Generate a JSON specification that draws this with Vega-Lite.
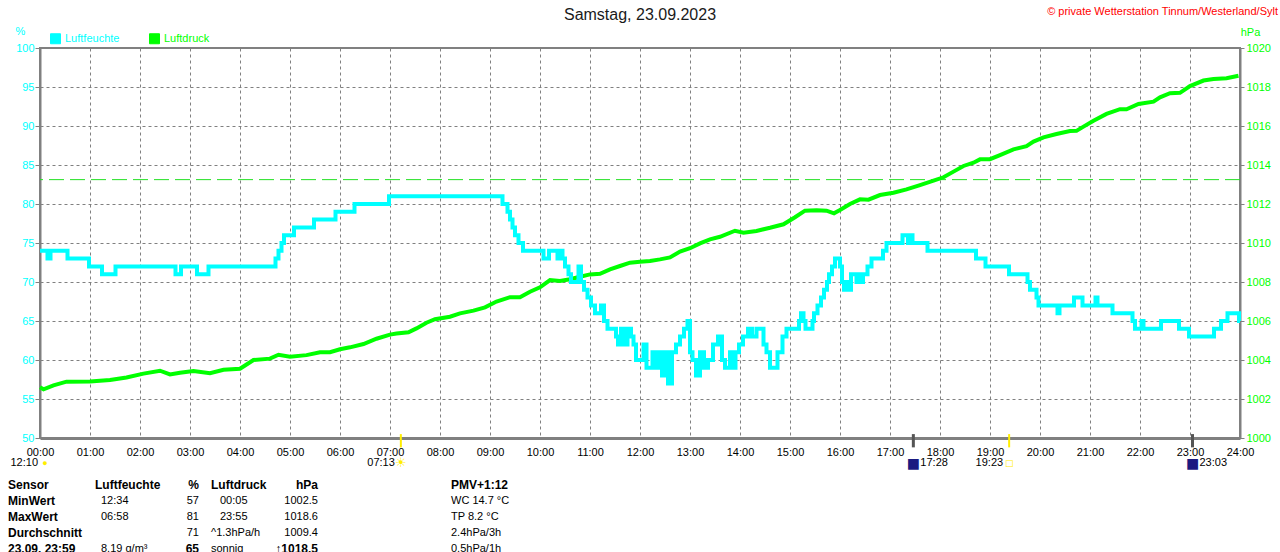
{
  "$schema": "https://vega.github.io/schema/vega-lite/v6.json",
  "width": 1200,
  "height": 390,
  "autosize": {"type": "none"},
  "padding": {"left": 40, "top": 48, "right": 40, "bottom": 114},
  "background": "white",
  "title": {"text": "Samstag, 23.09.2023", "fontSize": 16, "fontWeight": "normal", "color": "#1a1a1a", "anchor": "middle", "frame": "group", "offset": -17},
  "config": {"font": "Liberation Sans", "view": {"stroke": "#808080", "strokeWidth": 2}},
  "datasets": {
    "feuchte": [
      {"stunde": 0, "feuchte": 74}, {"stunde": 0.15, "feuchte": 73}, {"stunde": 0.21, "feuchte": 74},
      {"stunde": 0.55, "feuchte": 73}, {"stunde": 0.98, "feuchte": 72}, {"stunde": 1.24, "feuchte": 71},
      {"stunde": 1.51, "feuchte": 72}, {"stunde": 2.71, "feuchte": 71}, {"stunde": 2.82, "feuchte": 72},
      {"stunde": 3.14, "feuchte": 71}, {"stunde": 3.37, "feuchte": 72}, {"stunde": 4.71, "feuchte": 73},
      {"stunde": 4.77, "feuchte": 74}, {"stunde": 4.83, "feuchte": 75}, {"stunde": 4.88, "feuchte": 76},
      {"stunde": 5.08, "feuchte": 77}, {"stunde": 5.48, "feuchte": 78}, {"stunde": 5.91, "feuchte": 79},
      {"stunde": 6.29, "feuchte": 80}, {"stunde": 6.98, "feuchte": 81}, {"stunde": 9.25, "feuchte": 80},
      {"stunde": 9.35, "feuchte": 79}, {"stunde": 9.4, "feuchte": 78}, {"stunde": 9.45, "feuchte": 77},
      {"stunde": 9.5, "feuchte": 76}, {"stunde": 9.57, "feuchte": 75}, {"stunde": 9.66, "feuchte": 74},
      {"stunde": 10.07, "feuchte": 73}, {"stunde": 10.18, "feuchte": 74}, {"stunde": 10.35, "feuchte": 73},
      {"stunde": 10.4, "feuchte": 74}, {"stunde": 10.45, "feuchte": 73}, {"stunde": 10.5, "feuchte": 72},
      {"stunde": 10.57, "feuchte": 71}, {"stunde": 10.62, "feuchte": 70}, {"stunde": 10.77, "feuchte": 72},
      {"stunde": 10.82, "feuchte": 70}, {"stunde": 10.88, "feuchte": 69}, {"stunde": 10.95, "feuchte": 68},
      {"stunde": 11.02, "feuchte": 67}, {"stunde": 11.1, "feuchte": 66}, {"stunde": 11.22, "feuchte": 67},
      {"stunde": 11.28, "feuchte": 65}, {"stunde": 11.35, "feuchte": 64}, {"stunde": 11.52, "feuchte": 63},
      {"stunde": 11.56, "feuchte": 62}, {"stunde": 11.62, "feuchte": 64}, {"stunde": 11.68, "feuchte": 62},
      {"stunde": 11.75, "feuchte": 64}, {"stunde": 11.82, "feuchte": 63}, {"stunde": 11.87, "feuchte": 62},
      {"stunde": 11.92, "feuchte": 60}, {"stunde": 12.07, "feuchte": 62}, {"stunde": 12.13, "feuchte": 59},
      {"stunde": 12.25, "feuchte": 61}, {"stunde": 12.3, "feuchte": 59}, {"stunde": 12.38, "feuchte": 61},
      {"stunde": 12.44, "feuchte": 58}, {"stunde": 12.5, "feuchte": 61}, {"stunde": 12.56, "feuchte": 57},
      {"stunde": 12.64, "feuchte": 61}, {"stunde": 12.72, "feuchte": 62}, {"stunde": 12.8, "feuchte": 63},
      {"stunde": 12.88, "feuchte": 64}, {"stunde": 12.95, "feuchte": 65}, {"stunde": 13.0, "feuchte": 61},
      {"stunde": 13.05, "feuchte": 60}, {"stunde": 13.12, "feuchte": 58}, {"stunde": 13.2, "feuchte": 61},
      {"stunde": 13.28, "feuchte": 59}, {"stunde": 13.36, "feuchte": 60}, {"stunde": 13.46, "feuchte": 62},
      {"stunde": 13.56, "feuchte": 63}, {"stunde": 13.64, "feuchte": 60}, {"stunde": 13.7, "feuchte": 59},
      {"stunde": 13.8, "feuchte": 61}, {"stunde": 13.85, "feuchte": 59}, {"stunde": 13.91, "feuchte": 61},
      {"stunde": 13.98, "feuchte": 62}, {"stunde": 14.06, "feuchte": 63}, {"stunde": 14.16, "feuchte": 64},
      {"stunde": 14.24, "feuchte": 63}, {"stunde": 14.33, "feuchte": 64}, {"stunde": 14.47, "feuchte": 62},
      {"stunde": 14.53, "feuchte": 61}, {"stunde": 14.6, "feuchte": 59}, {"stunde": 14.75, "feuchte": 61},
      {"stunde": 14.85, "feuchte": 63}, {"stunde": 14.93, "feuchte": 64}, {"stunde": 15.18, "feuchte": 65},
      {"stunde": 15.22, "feuchte": 66}, {"stunde": 15.27, "feuchte": 65}, {"stunde": 15.31, "feuchte": 64},
      {"stunde": 15.45, "feuchte": 65}, {"stunde": 15.48, "feuchte": 66}, {"stunde": 15.55, "feuchte": 67},
      {"stunde": 15.62, "feuchte": 68}, {"stunde": 15.68, "feuchte": 69}, {"stunde": 15.74, "feuchte": 70},
      {"stunde": 15.78, "feuchte": 71}, {"stunde": 15.84, "feuchte": 72}, {"stunde": 15.9, "feuchte": 73},
      {"stunde": 16.0, "feuchte": 72}, {"stunde": 16.04, "feuchte": 70}, {"stunde": 16.08, "feuchte": 69},
      {"stunde": 16.14, "feuchte": 70}, {"stunde": 16.18, "feuchte": 69}, {"stunde": 16.22, "feuchte": 71},
      {"stunde": 16.33, "feuchte": 70}, {"stunde": 16.36, "feuchte": 71}, {"stunde": 16.43, "feuchte": 70},
      {"stunde": 16.46, "feuchte": 71}, {"stunde": 16.55, "feuchte": 72}, {"stunde": 16.63, "feuchte": 73},
      {"stunde": 16.86, "feuchte": 74}, {"stunde": 16.93, "feuchte": 75}, {"stunde": 17.25, "feuchte": 76},
      {"stunde": 17.36, "feuchte": 75}, {"stunde": 17.39, "feuchte": 76}, {"stunde": 17.45, "feuchte": 75},
      {"stunde": 17.75, "feuchte": 74}, {"stunde": 18.72, "feuchte": 73}, {"stunde": 18.91, "feuchte": 72},
      {"stunde": 19.38, "feuchte": 71}, {"stunde": 19.75, "feuchte": 70}, {"stunde": 19.8, "feuchte": 69},
      {"stunde": 19.93, "feuchte": 68}, {"stunde": 19.97, "feuchte": 67}, {"stunde": 20.35, "feuchte": 66},
      {"stunde": 20.39, "feuchte": 67}, {"stunde": 20.68, "feuchte": 68}, {"stunde": 20.85, "feuchte": 67},
      {"stunde": 21.11, "feuchte": 68}, {"stunde": 21.15, "feuchte": 67}, {"stunde": 21.45, "feuchte": 66},
      {"stunde": 21.85, "feuchte": 65}, {"stunde": 21.9, "feuchte": 64}, {"stunde": 22.03, "feuchte": 65},
      {"stunde": 22.07, "feuchte": 64}, {"stunde": 22.42, "feuchte": 65}, {"stunde": 22.78, "feuchte": 64},
      {"stunde": 22.98, "feuchte": 63}, {"stunde": 23.48, "feuchte": 64}, {"stunde": 23.62, "feuchte": 65},
      {"stunde": 23.75, "feuchte": 66}, {"stunde": 23.98, "feuchte": 65}, {"stunde": 24.0, "feuchte": 65}
    ],
    "luftdruck": [
      {"stunde": 0, "hPa": 1002.6}, {"stunde": 0.07, "hPa": 1002.5}, {"stunde": 0.27, "hPa": 1002.7},
      {"stunde": 0.53, "hPa": 1002.89}, {"stunde": 1.0, "hPa": 1002.9}, {"stunde": 1.4, "hPa": 1002.97},
      {"stunde": 1.73, "hPa": 1003.1}, {"stunde": 2.07, "hPa": 1003.3}, {"stunde": 2.4, "hPa": 1003.45},
      {"stunde": 2.6, "hPa": 1003.26}, {"stunde": 2.8, "hPa": 1003.35}, {"stunde": 3.07, "hPa": 1003.44},
      {"stunde": 3.4, "hPa": 1003.32}, {"stunde": 3.67, "hPa": 1003.5}, {"stunde": 4.0, "hPa": 1003.55},
      {"stunde": 4.27, "hPa": 1004.0}, {"stunde": 4.6, "hPa": 1004.07}, {"stunde": 4.77, "hPa": 1004.27},
      {"stunde": 5.0, "hPa": 1004.17}, {"stunde": 5.33, "hPa": 1004.25}, {"stunde": 5.6, "hPa": 1004.4},
      {"stunde": 5.8, "hPa": 1004.4}, {"stunde": 6.0, "hPa": 1004.55}, {"stunde": 6.2, "hPa": 1004.65},
      {"stunde": 6.47, "hPa": 1004.82}, {"stunde": 6.73, "hPa": 1005.09}, {"stunde": 7.0, "hPa": 1005.3},
      {"stunde": 7.13, "hPa": 1005.36}, {"stunde": 7.37, "hPa": 1005.42}, {"stunde": 7.53, "hPa": 1005.62},
      {"stunde": 7.73, "hPa": 1005.91}, {"stunde": 7.9, "hPa": 1006.09}, {"stunde": 8.2, "hPa": 1006.22},
      {"stunde": 8.4, "hPa": 1006.39}, {"stunde": 8.67, "hPa": 1006.53}, {"stunde": 8.9, "hPa": 1006.7},
      {"stunde": 9.13, "hPa": 1007.0}, {"stunde": 9.4, "hPa": 1007.22}, {"stunde": 9.6, "hPa": 1007.22},
      {"stunde": 9.8, "hPa": 1007.5}, {"stunde": 10.0, "hPa": 1007.73}, {"stunde": 10.2, "hPa": 1008.1},
      {"stunde": 10.4, "hPa": 1008.05}, {"stunde": 10.6, "hPa": 1008.14}, {"stunde": 10.8, "hPa": 1008.27},
      {"stunde": 11.0, "hPa": 1008.39}, {"stunde": 11.2, "hPa": 1008.42}, {"stunde": 11.4, "hPa": 1008.65},
      {"stunde": 11.6, "hPa": 1008.82}, {"stunde": 11.8, "hPa": 1008.99}, {"stunde": 12.0, "hPa": 1009.04},
      {"stunde": 12.2, "hPa": 1009.08}, {"stunde": 12.4, "hPa": 1009.16}, {"stunde": 12.6, "hPa": 1009.26},
      {"stunde": 12.8, "hPa": 1009.56}, {"stunde": 13.0, "hPa": 1009.73}, {"stunde": 13.2, "hPa": 1009.98},
      {"stunde": 13.4, "hPa": 1010.19}, {"stunde": 13.6, "hPa": 1010.32}, {"stunde": 13.9, "hPa": 1010.63},
      {"stunde": 14.07, "hPa": 1010.53}, {"stunde": 14.33, "hPa": 1010.62}, {"stunde": 14.6, "hPa": 1010.78},
      {"stunde": 14.87, "hPa": 1010.96}, {"stunde": 15.1, "hPa": 1011.32}, {"stunde": 15.3, "hPa": 1011.66},
      {"stunde": 15.53, "hPa": 1011.68}, {"stunde": 15.73, "hPa": 1011.66}, {"stunde": 15.88, "hPa": 1011.52},
      {"stunde": 16.0, "hPa": 1011.69}, {"stunde": 16.2, "hPa": 1012.0}, {"stunde": 16.4, "hPa": 1012.24},
      {"stunde": 16.57, "hPa": 1012.22}, {"stunde": 16.8, "hPa": 1012.46}, {"stunde": 17.07, "hPa": 1012.58},
      {"stunde": 17.33, "hPa": 1012.75}, {"stunde": 17.6, "hPa": 1012.97}, {"stunde": 17.87, "hPa": 1013.2},
      {"stunde": 18.07, "hPa": 1013.37}, {"stunde": 18.27, "hPa": 1013.66}, {"stunde": 18.47, "hPa": 1013.95},
      {"stunde": 18.67, "hPa": 1014.12}, {"stunde": 18.8, "hPa": 1014.29}, {"stunde": 19.0, "hPa": 1014.3},
      {"stunde": 19.2, "hPa": 1014.51}, {"stunde": 19.47, "hPa": 1014.8}, {"stunde": 19.73, "hPa": 1014.97},
      {"stunde": 19.87, "hPa": 1015.2}, {"stunde": 20.07, "hPa": 1015.42}, {"stunde": 20.33, "hPa": 1015.59},
      {"stunde": 20.6, "hPa": 1015.74}, {"stunde": 20.73, "hPa": 1015.75}, {"stunde": 20.87, "hPa": 1015.97},
      {"stunde": 21.07, "hPa": 1016.27}, {"stunde": 21.33, "hPa": 1016.62}, {"stunde": 21.6, "hPa": 1016.86},
      {"stunde": 21.73, "hPa": 1016.86}, {"stunde": 21.97, "hPa": 1017.13}, {"stunde": 22.27, "hPa": 1017.25},
      {"stunde": 22.4, "hPa": 1017.47}, {"stunde": 22.6, "hPa": 1017.68}, {"stunde": 22.8, "hPa": 1017.7},
      {"stunde": 23.0, "hPa": 1018.05}, {"stunde": 23.27, "hPa": 1018.33}, {"stunde": 23.47, "hPa": 1018.41},
      {"stunde": 23.73, "hPa": 1018.45}, {"stunde": 23.97, "hPa": 1018.58}
    ],
    "normaldruck": [{"hPa": 1013.25}],
    "astro": [
      {"stunde": 0, "zeit": "12:10", "art": "Mondphase"},
      {"stunde": 7.217, "zeit": "07:13", "art": "Sonnenaufgang"},
      {"stunde": 17.467, "zeit": "17:28", "art": "Mondaufgang"},
      {"stunde": 19.383, "zeit": "19:23", "art": "Sonnenuntergang"},
      {"stunde": 23.05, "zeit": "23:03", "art": "Monduntergang"}
    ],
    "hinweis": [{"text": "© private Wetterstation Tinnum/Westerland/Sylt"}],
    "trenner": [{"spalte": 1}, {"spalte": 5}, {"spalte": 9}, {"spalte": 11}, {"spalte": 12}],
    "tabelle": [
      {"zeile": 0, "spalte": 0, "text": "Sensor"},
      {"zeile": 0, "spalte": 2, "text": "Luftfeuchte"},
      {"zeile": 0, "spalte": 4, "text": "%"},
      {"zeile": 0, "spalte": 6, "text": "Luftdruck"},
      {"zeile": 0, "spalte": 8, "text": "hPa"},
      {"zeile": 0, "spalte": 10, "text": "PMV+1:12"},
      {"zeile": 1, "spalte": 0, "text": "MinWert"},
      {"zeile": 1, "spalte": 3, "text": "12:34"},
      {"zeile": 1, "spalte": 4, "text": "57"},
      {"zeile": 1, "spalte": 7, "text": "00:05"},
      {"zeile": 1, "spalte": 8, "text": "1002.5"},
      {"zeile": 1, "spalte": 10, "text": "WC 14.7 °C"},
      {"zeile": 2, "spalte": 0, "text": "MaxWert"},
      {"zeile": 2, "spalte": 3, "text": "06:58"},
      {"zeile": 2, "spalte": 4, "text": "81"},
      {"zeile": 2, "spalte": 7, "text": "23:55"},
      {"zeile": 2, "spalte": 8, "text": "1018.6"},
      {"zeile": 2, "spalte": 10, "text": "TP 8.2 °C"},
      {"zeile": 3, "spalte": 0, "text": "Durchschnitt"},
      {"zeile": 3, "spalte": 4, "text": "71"},
      {"zeile": 3, "spalte": 6, "text": "^1.3hPa/h"},
      {"zeile": 3, "spalte": 8, "text": "1009.4"},
      {"zeile": 3, "spalte": 10, "text": "2.4hPa/3h"},
      {"zeile": 4, "spalte": 0, "text": "23.09. 23:59"},
      {"zeile": 4, "spalte": 3, "text": "8.19 g/m³"},
      {"zeile": 4, "spalte": 4, "text": "65"},
      {"zeile": 4, "spalte": 6, "text": "sonnig"},
      {"zeile": 4, "spalte": 8, "text": "↑1018.5"},
      {"zeile": 4, "spalte": 10, "text": "0.5hPa/1h"}
    ]
  },
  "layer": [
    {
      "encoding": {
        "y": {
          "field": "hPa", "type": "quantitative",
          "scale": {"domain": [1000, 1020], "nice": false, "zero": false},
          "axis": {
            "orient": "right", "values": [1000, 1002, 1004, 1006, 1008, 1010, 1012, 1014, 1016, 1018, 1020], "format": "d",
            "title": "hPa", "titleAngle": 0, "titleX": 10, "titleY": -16, "titleAlign": "center", "titleBaseline": "middle",
            "titleColor": "#00ff00", "titleFontSize": 11, "titleFontWeight": "normal",
            "grid": false, "tickColor": "#808080", "tickSize": 4, "domainColor": "#808080", "domainWidth": 2,
            "labelColor": "#00ff00", "labelFontSize": 11, "labelPadding": 2, "labelFlush": false, "labelOverlap": false
          }
        }
      },
      "layer": [
        {
          "data": {"name": "normaldruck"},
          "mark": {"type": "rule", "color": "#22e022", "strokeWidth": 1, "strokeDash": [15, 6]}
        },
        {
          "data": {"name": "luftdruck"},
          "mark": {"type": "line", "strokeWidth": 4},
          "encoding": {
            "x": {"field": "stunde", "type": "quantitative", "scale": {"domain": [0, 24], "nice": false, "zero": false}, "axis": null},
            "color": {"datum": "Luftdruck", "type": "nominal"}
          }
        }
      ]
    },
    {
      "data": {"name": "feuchte"},
      "mark": {"type": "line", "strokeWidth": 4, "interpolate": "step-after"},
      "encoding": {
        "x": {
          "field": "stunde", "type": "quantitative",
          "scale": {"domain": [0, 24], "nice": false, "zero": false},
          "axis": {
            "values": [0, 1, 2, 3, 4, 5, 6, 7, 8, 9, 10, 11, 12, 13, 14, 15, 16, 17, 18, 19, 20, 21, 22, 23, 24],
            "labelExpr": "(datum.value < 10 ? '0' : '') + datum.value + ':00'",
            "title": null, "grid": true, "gridColor": "#808080", "gridDash": [3, 3], "gridWidth": 1,
            "ticks": false, "tickSize": 0, "domainColor": "#808080", "domainWidth": 3,
            "labelColor": "#000000", "labelFontSize": 11, "labelPadding": 8,
            "labelFlush": false, "labelOverlap": false, "labelBound": false
          }
        },
        "y": {
          "field": "feuchte", "type": "quantitative",
          "scale": {"domain": [50, 100], "nice": false, "zero": false},
          "axis": {
            "values": [50, 55, 60, 65, 70, 75, 80, 85, 90, 95, 100],
            "title": "%", "titleAngle": 0, "titleX": -20, "titleY": -17, "titleAlign": "center", "titleBaseline": "middle",
            "titleColor": "#00ffff", "titleFontSize": 11, "titleFontWeight": "normal",
            "grid": true, "gridColor": "#808080", "gridDash": [3, 3], "gridWidth": 1,
            "tickColor": "#808080", "tickSize": 5, "domainColor": "#808080", "domainWidth": 2,
            "labelColor": "#00ffff", "labelFontSize": 11, "labelPadding": 1, "labelFlush": false, "labelOverlap": false
          }
        },
        "color": {
          "datum": "Luftfeuchte", "type": "nominal",
          "scale": {"domain": ["Luftfeuchte", "Luftdruck"], "range": ["#00ffff", "#00ff00"]},
          "legend": {
            "title": null, "orient": "none", "legendX": 10, "legendY": -15, "direction": "horizontal",
            "symbolType": "square", "symbolSize": 100, "symbolStrokeColor": "#000000", "symbolStrokeWidth": 1,
            "labelFontSize": 11, "labelOffset": 4, "columnPadding": 27, "padding": 0,
            "encode": {
              "symbols": {"update": {"fill": {"scale": "color", "field": "value"}, "fillOpacity": {"value": 1}, "stroke": {"value": "#000000"}, "strokeWidth": {"value": 1}}},
              "labels": {"update": {"fill": {"scale": "color", "field": "value"}}}
            }
          }
        }
      }
    },
    {
      "data": {"name": "astro"},
      "layer": [
        {
          "transform": [{"filter": "datum.art == 'Sonnenaufgang' || datum.art == 'Sonnenuntergang'"}],
          "mark": {"type": "rule", "color": "#ffee00", "strokeWidth": 2},
          "encoding": {
            "x": {"field": "stunde", "type": "quantitative", "scale": {"domain": [0, 24], "nice": false, "zero": false}, "axis": null},
            "y": {"datum": 50.5, "type": "quantitative", "scale": {"domain": [50, 100], "nice": false, "zero": false}, "axis": null},
            "y2": {"datum": 48.8}
          }
        },
        {
          "transform": [{"filter": "datum.art == 'Mondaufgang' || datum.art == 'Monduntergang'"}],
          "mark": {"type": "rule", "color": "#555555", "strokeWidth": 3},
          "encoding": {
            "x": {"field": "stunde", "type": "quantitative", "scale": {"domain": [0, 24], "nice": false, "zero": false}, "axis": null},
            "y": {"datum": 50.5, "type": "quantitative", "scale": {"domain": [50, 100], "nice": false, "zero": false}, "axis": null},
            "y2": {"datum": 48.8}
          }
        },
        {
          "transform": [{"filter": "datum.art == 'Sonnenaufgang' || datum.art == 'Sonnenuntergang'"}],
          "mark": {"type": "text", "align": "right", "baseline": "middle", "dx": -6, "dy": 25, "fontSize": 11, "color": "#000000"},
          "encoding": {
            "x": {"field": "stunde", "type": "quantitative", "scale": {"domain": [0, 24], "nice": false, "zero": false}, "axis": null},
            "y": {"datum": 50, "type": "quantitative", "scale": {"domain": [50, 100], "nice": false, "zero": false}, "axis": null},
            "text": {"field": "zeit"}
          }
        },
        {
          "transform": [{"filter": "datum.art == 'Mondaufgang' || datum.art == 'Monduntergang'"}],
          "mark": {"type": "text", "align": "left", "baseline": "middle", "dx": 7, "dy": 25, "fontSize": 11, "color": "#000000"},
          "encoding": {
            "x": {"field": "stunde", "type": "quantitative", "scale": {"domain": [0, 24], "nice": false, "zero": false}, "axis": null},
            "y": {"datum": 50, "type": "quantitative", "scale": {"domain": [50, 100], "nice": false, "zero": false}, "axis": null},
            "text": {"field": "zeit"}
          }
        },
        {
          "transform": [{"filter": "datum.art == 'Mondphase'"}],
          "mark": {"type": "text", "align": "right", "baseline": "middle", "dx": -2, "dy": 25, "fontSize": 11, "color": "#000000"},
          "encoding": {
            "x": {"field": "stunde", "type": "quantitative", "scale": {"domain": [0, 24], "nice": false, "zero": false}, "axis": null},
            "y": {"datum": 50, "type": "quantitative", "scale": {"domain": [50, 100], "nice": false, "zero": false}, "axis": null},
            "text": {"field": "zeit"}
          }
        },
        {
          "transform": [{"filter": "datum.art == 'Mondphase'"}],
          "mark": {"type": "text", "text": "●", "align": "center", "baseline": "middle", "dx": 5, "dy": 25, "fontSize": 9, "color": "#ffee00"},
          "encoding": {
            "x": {"field": "stunde", "type": "quantitative", "scale": {"domain": [0, 24], "nice": false, "zero": false}, "axis": null},
            "y": {"datum": 50, "type": "quantitative", "scale": {"domain": [50, 100], "nice": false, "zero": false}, "axis": null}
          }
        },
        {
          "transform": [{"filter": "datum.art == 'Sonnenaufgang'"}],
          "mark": {"type": "text", "text": "☀", "font": "DejaVu Sans", "align": "center", "baseline": "middle", "dy": 25, "fontSize": 13, "color": "#ffee00"},
          "encoding": {
            "x": {"field": "stunde", "type": "quantitative", "scale": {"domain": [0, 24], "nice": false, "zero": false}, "axis": null},
            "y": {"datum": 50, "type": "quantitative", "scale": {"domain": [50, 100], "nice": false, "zero": false}, "axis": null}
          }
        },
        {
          "transform": [{"filter": "datum.art == 'Sonnenuntergang'"}],
          "mark": {"type": "text", "text": "□", "font": "DejaVu Sans", "align": "center", "baseline": "middle", "dy": 25, "fontSize": 9, "color": "#ffee00"},
          "encoding": {
            "x": {"field": "stunde", "type": "quantitative", "scale": {"domain": [0, 24], "nice": false, "zero": false}, "axis": null},
            "y": {"datum": 50, "type": "quantitative", "scale": {"domain": [50, 100], "nice": false, "zero": false}, "axis": null}
          }
        },
        {
          "transform": [{"filter": "datum.art == 'Mondaufgang' || datum.art == 'Monduntergang'"}],
          "mark": {"type": "text", "text": "■", "font": "DejaVu Sans", "align": "center", "baseline": "middle", "dy": 26, "fontSize": 14, "color": "#1a1a80"},
          "encoding": {
            "x": {"field": "stunde", "type": "quantitative", "scale": {"domain": [0, 24], "nice": false, "zero": false}, "axis": null},
            "y": {"datum": 50, "type": "quantitative", "scale": {"domain": [50, 100], "nice": false, "zero": false}, "axis": null}
          }
        },
        {
          "data": {"name": "hinweis"},
          "mark": {"type": "text", "align": "right", "baseline": "middle", "dx": 38, "dy": -36, "fontSize": 11, "color": "#ff0000"},
          "encoding": {
            "x": {"datum": 24, "type": "quantitative", "scale": {"domain": [0, 24], "nice": false, "zero": false}, "axis": null},
            "y": {"datum": 100, "type": "quantitative", "scale": {"domain": [50, 100], "nice": false, "zero": false}, "axis": null},
            "text": {"field": "text"}
          }
        }
      ]
    },
    {
      "encoding": {
        "x": {"field": "spalte", "type": "quantitative", "scale": {"domain": [0, 1, 2, 3, 4, 5, 6, 7, 8, 9, 10, 11, 12], "range": [-32, 49, 55, 61, 159, 167, 171, 180, 278, 286, 411, 522, 1237], "nice": false, "zero": false}, "axis": null},
        "y": {"field": "zeile", "type": "quantitative", "scale": {"domain": [0, 4], "range": [437, 501], "nice": false, "zero": false}, "axis": null}
      },
      "layer": [
        {
          "data": {"name": "trenner"},
          "mark": {"type": "rule", "color": "#a0a0a0", "strokeWidth": 1},
          "encoding": {"y": {"datum": -0.83, "type": "quantitative", "scale": {"domain": [0, 4], "range": [437, 501], "nice": false, "zero": false}, "axis": null}, "y2": {"datum": 4.6}}
        },
        {
          "data": {"name": "tabelle"},
          "transform": [{"filter": "(datum.spalte == 3 || datum.spalte == 6 || datum.spalte == 7 || datum.spalte == 10) && datum.zeile > 0"}],
          "mark": {"type": "text", "align": "left", "baseline": "middle", "fontSize": 11, "color": "#000000"},
          "encoding": {"text": {"field": "text"}}
        },
        {
          "data": {"name": "tabelle"},
          "transform": [{"filter": "datum.spalte == 0 || (datum.zeile == 0 && (datum.spalte == 2 || datum.spalte == 6 || datum.spalte == 10))"}],
          "mark": {"type": "text", "align": "left", "baseline": "middle", "fontSize": 12, "fontWeight": "bold", "color": "#000000"},
          "encoding": {"text": {"field": "text"}}
        },
        {
          "data": {"name": "tabelle"},
          "transform": [{"filter": "(datum.spalte == 4 || datum.spalte == 8) && datum.zeile > 0 && datum.zeile < 4"}],
          "mark": {"type": "text", "align": "right", "baseline": "middle", "fontSize": 11, "color": "#000000"},
          "encoding": {"text": {"field": "text"}}
        },
        {
          "data": {"name": "tabelle"},
          "transform": [{"filter": "(datum.spalte == 4 || datum.spalte == 8) && (datum.zeile == 0 || datum.zeile == 4)"}],
          "mark": {"type": "text", "align": "right", "baseline": "middle", "fontSize": 12, "fontWeight": "bold", "color": "#000000"},
          "encoding": {"text": {"field": "text"}}
        }
      ]
    }
  ],
  "resolve": {"scale": {"x": "independent", "y": "independent"}}
}
